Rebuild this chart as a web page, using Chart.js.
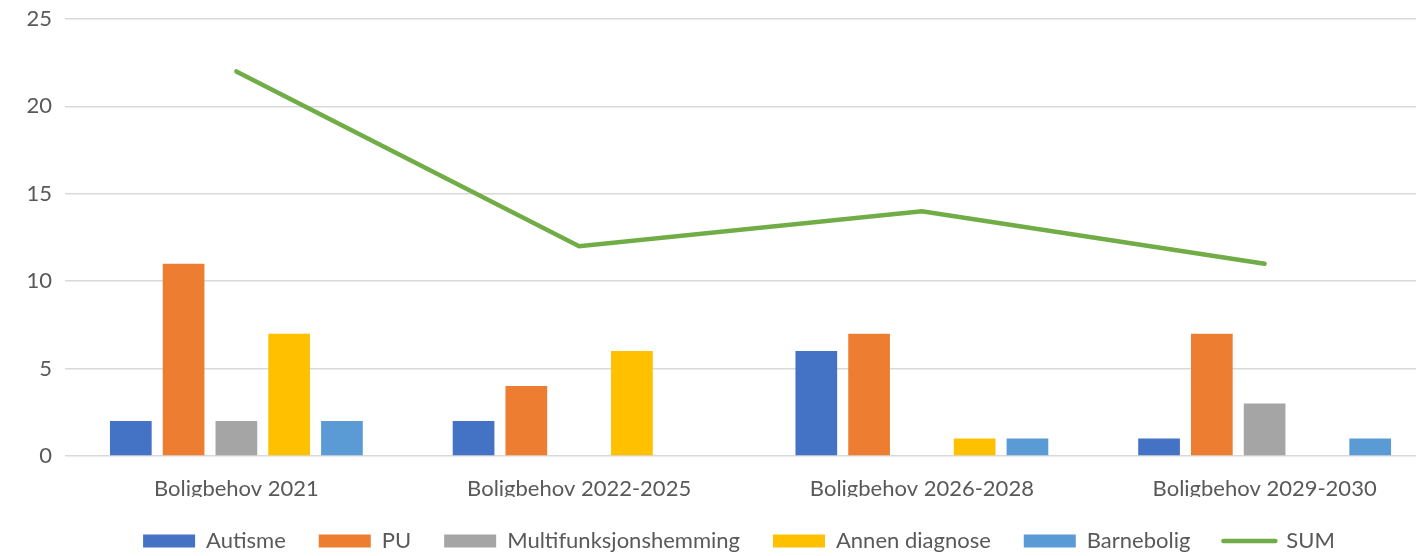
<!DOCTYPE html>
<html lang="no">
<head>
  <meta charset="UTF-8" />
  <title>Boligbehov</title>
  <script src="https://cdn.jsdelivr.net/npm/chart.js@4.4.0/dist/chart.umd.min.js"></script>
  <style>
    html, body {
      margin: 0;
      padding: 0;
      background: #ffffff;
      overflow: hidden;
    }
    .wrap {
      width: 1436px;
      height: 562px;
    }
  </style>
</head>
<body>
  <div class="wrap">
    <canvas id="boligChart" width="1436" height="562"></canvas>
  </div>

  <script>
    // Categories and series
    const categories = ["Boligbehov 2021", "Boligbehov 2022-2025", "Boligbehov 2026-2028", "Boligbehov 2029-2030"];
    const autisme = [2, 2, 6, 1];
    const pu = [11, 4, 7, 7];
    const multifunksjon = [2, 0, 0, 3];
    const annenDiagnose = [7, 6, 1, 0];
    const barnebolig = [2, 0, 1, 1];
    const sum = [22, 12, 14, 11];
    const yTicks = [0, 5, 10, 15, 20, 25];

    const textColor = "#595959";
    const fontFamily = "Lato, 'Open Sans', sans-serif";

    function barSet(label, data, color) {
      return {
        type: "bar",
        label: label,
        data: data,
        backgroundColor: color,
        borderWidth: 0,
        categoryPercentage: 0.77,
        barPercentage: 0.79,
        order: 2
      };
    }

    // nudge the legend a bit to the right, like the original
    const legendShift = {
      id: "legendShift",
      afterLayout: function (chart) {
        chart.legend.left += 21;
        chart.legend.right += 21;
      }
    };

    const ctx = document.getElementById("boligChart").getContext("2d");
    new Chart(ctx, {
      data: {
        labels: categories,
        datasets: [
          barSet("Autisme", autisme, "#4472C4"),
          barSet("PU", pu, "#ED7D31"),
          barSet("Multifunksjonshemming", multifunksjon, "#A5A5A5"),
          barSet("Annen diagnose", annenDiagnose, "#FFC000"),
          barSet("Barnebolig", barnebolig, "#5B9BD5"),
          {
            type: "line",
            label: "SUM",
            data: sum,
            borderColor: "#70AD47",
            backgroundColor: "#70AD47",
            borderWidth: 4.5,
            borderCapStyle: "round",
            pointRadius: 0,
            tension: 0,
            fill: false,
            order: 1
          }
        ]
      },
      plugins: [legendShift],
      options: {
        responsive: false,
        animation: false,
        layout: { padding: { top: 19, left: 0, right: 0, bottom: 0 } },
        plugins: {
          tooltip: { enabled: false },
          legend: {
            position: "bottom",
            labels: {
              color: textColor,
              font: { family: fontFamily, size: 22 },
              usePointStyle: true,
              pointStyleWidth: 52,
              boxHeight: 13,
              padding: 33,
              sort: function (a, b) { return a.datasetIndex - b.datasetIndex; },
              generateLabels: function (chart) {
                const items = Chart.defaults.plugins.legend.labels.generateLabels(chart);
                items.forEach(function (it) {
                  if (it.datasetIndex === 5) {
                    it.pointStyle = "line";
                    it.lineWidth = 4.5;
                    it.lineCap = "round";
                  } else {
                    it.pointStyle = "rect";
                    it.lineWidth = 0;
                  }
                });
                return items;
              }
            }
          }
        },
        scales: {
          x: {
            grid: { display: false, drawTicks: false },
            border: { display: false },
            ticks: {
              color: textColor,
              font: { family: fontFamily, size: 22 },
              padding: 20
            },
            afterFit: function (scale) { scale.height = 41; }
          },
          y: {
            min: 0,
            max: 25,
            afterBuildTicks: function (scale) {
              scale.ticks = yTicks.map(function (v) { return { value: v }; });
            },
            grid: { color: "#D9D9D9", lineWidth: 1.5, drawTicks: false },
            border: { display: false },
            ticks: {
              color: textColor,
              font: { family: fontFamily, size: 22 },
              padding: 13
            },
            afterFit: function (scale) {
              scale.width = 65;
              scale.paddingTop = 0;
              scale.paddingBottom = 0;
            }
          }
        }
      }
    });
  </script>
</body>
</html>
